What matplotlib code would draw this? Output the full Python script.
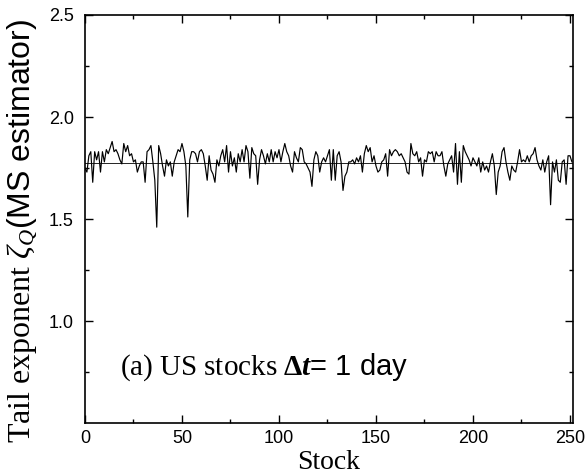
import numpy as np
import matplotlib.pyplot as plt

plt.rcParams['mathtext.fontset'] = 'custom'
plt.rcParams['mathtext.rm'] = 'Liberation Serif'
plt.rcParams['mathtext.it'] = 'Liberation Serif:italic'
plt.rcParams['mathtext.bf'] = 'Liberation Serif:bold'
plt.rcParams['mathtext.bfit'] = 'Liberation Serif:italic:bold'

# tail exponent per stock
zeta_0_49 = [1.75, 1.73, 1.81, 1.83, 1.68, 1.83, 1.79, 1.83, 1.73, 1.83,
             1.78, 1.84, 1.82, 1.85, 1.88, 1.83, 1.84, 1.82, 1.79, 1.77,
             1.87, 1.83, 1.86, 1.81, 1.82, 1.78, 1.79, 1.73, 1.76, 1.78,
             1.78, 1.68, 1.83, 1.84, 1.86, 1.78, 1.69, 1.46, 1.86, 1.82,
             1.76, 1.71, 1.79, 1.76, 1.78, 1.71, 1.78, 1.81, 1.84, 1.83]
zeta_50_99 = [1.87, 1.83, 1.76, 1.51, 1.79, 1.83, 1.83, 1.82, 1.78, 1.83,
              1.84, 1.82, 1.76, 1.69, 1.81, 1.74, 1.72, 1.68, 1.79, 1.76,
              1.81, 1.84, 1.78, 1.86, 1.73, 1.83, 1.76, 1.80, 1.73, 1.82,
              1.78, 1.84, 1.78, 1.86, 1.83, 1.70, 1.85, 1.82, 1.81, 1.67,
              1.79, 1.84, 1.81, 1.77, 1.82, 1.78, 1.84, 1.78, 1.83, 1.80]
zeta_100_147 = [1.84, 1.78, 1.83, 1.87, 1.83, 1.81, 1.76, 1.73, 1.83, 1.80,
                1.78, 1.85, 1.84, 1.78, 1.77, 1.75, 1.73, 1.66, 1.79, 1.83,
                1.81, 1.73, 1.78, 1.80, 1.78, 1.81, 1.84, 1.69, 1.84, 1.69,
                1.81, 1.83, 1.78, 1.64, 1.71, 1.73, 1.78, 1.78, 1.79, 1.77,
                1.80, 1.78, 1.81, 1.73, 1.82, 1.86, 1.83, 1.85]
zeta_148_196 = [1.78, 1.81, 1.76, 1.73, 1.74, 1.78, 1.79, 1.82, 1.71, 1.84,
                1.81, 1.83, 1.84, 1.83, 1.81, 1.82, 1.80, 1.78, 1.73, 1.72,
                1.87, 1.82, 1.81, 1.83, 1.78, 1.80, 1.71, 1.79, 1.78, 1.83,
                1.82, 1.83, 1.78, 1.83, 1.81, 1.81, 1.83, 1.76, 1.71, 1.77,
                1.79, 1.81, 1.73, 1.87, 1.67, 1.83, 1.68, 1.86, 1.83]
zeta_197_251 = [1.81, 1.79, 1.76, 1.80, 1.78, 1.76, 1.80, 1.73, 1.78, 1.74,
                1.76, 1.73, 1.78, 1.82, 1.76, 1.62, 1.73, 1.76, 1.83, 1.85,
                1.78, 1.73, 1.69, 1.76, 1.74, 1.73, 1.78, 1.84, 1.78, 1.79,
                1.78, 1.81, 1.78, 1.81, 1.82, 1.85, 1.79, 1.76, 1.74, 1.79,
                1.73, 1.78, 1.81, 1.57, 1.78, 1.73, 1.79, 1.69, 1.68, 1.78,
                1.79, 1.67, 1.81, 1.81, 1.78]
zeta = zeta_0_49 + zeta_50_99 + zeta_100_147 + zeta_148_196 + zeta_197_251
stock = np.arange(len(zeta))
zeta_mean = 1.776

x_ticks = [0, 50, 100, 150, 200, 250]
y_ticks = [1.0, 1.5, 2.0, 2.5]

fig = plt.figure(figsize=(5.86, 4.76), dpi=100)
ax = fig.add_axes([0.145, 0.1113, 0.8323, 0.8572])

ax.plot(stock, zeta, color='black', linewidth=0.85)
ax.axhline(zeta_mean, color='black', linewidth=0.6)

ax.set_xlim(0, 251.4)
ax.set_ylim(0.5, 2.5)
ax.set_xticks(x_ticks)
ax.set_xticks(np.arange(25, 250, 50), minor=True)
ax.set_yticks(y_ticks)
ax.set_yticklabels([f'{v:.1f}' for v in y_ticks])
ax.set_yticks([0.75, 1.25, 1.75, 2.25], minor=True)

ax.tick_params(which='both', direction='in', top=True, right=True,
               labelsize=13, width=1.0)
ax.tick_params(which='major', length=6)
ax.tick_params(which='minor', length=3)
ax.tick_params(axis='x', pad=5)
ax.tick_params(axis='y', pad=8)
for lab in ax.get_xticklabels() + ax.get_yticklabels():
    lab.set_family('Liberation Sans')
for sp in ax.spines.values():
    sp.set_linewidth(1.2)

ax.set_xlabel('Stock', family='Liberation Serif', fontsize=20, labelpad=2)
ax.set_ylabel(r'$\mathrm{Tail\ exponent}\ \zeta_{Q}$(MS estimator)',
              family='Liberation Sans', fontsize=23)
ax.yaxis.set_label_coords(-0.095, 0.47)

ax.text(18.3, 0.735, r'$\mathrm{(a)\ US\ stocks}\ \mathbf{\Delta}\mathbfit{t}$= 1 day',
        family='Liberation Sans', fontsize=21, ha='left', va='baseline')

fig.savefig('out.png', dpi=100)
